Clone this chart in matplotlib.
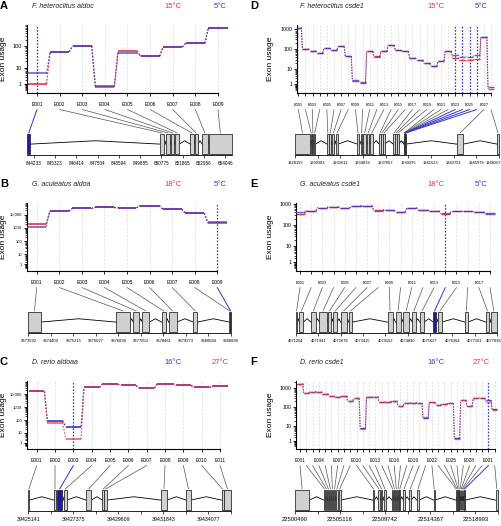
import numpy as np
import matplotlib
matplotlib.use("Agg")
import matplotlib.pyplot as plt
from matplotlib.patches import Rectangle, ConnectionPatch
import matplotlib.transforms as mtransforms

plt.rcParams['font.family'] = ['Liberation Sans', 'DejaVu Sans']

W, H = 502, 526
RED = '#e8323c'
BLUE = '#3434d2'
SIGFILL = '#1c1ca8'

# ---------------- data ----------------
# Panel A  F. heteroclitus aldoc
a_conds = ['15°C', '5°C']
a_u1 = [1.0, 56, 103, 0.57, 61, 35, 93, 137, 713]
a_u2 = [4.9, 55, 103, 0.41, 51, 35, 93, 137, 713]
a_sig = [1]
a_start = [843890, 850708, 851000, 851273, 851479, 852250, 852472, 852866, 853192]
a_end = [844062, 850914, 851222, 851428, 851685, 852421, 852644, 853140, 854391]
a_ticks = [844233, 845323, 846414, 847504, 848594, 849685, 850775, 851865, 852956, 854046]

# Panel B  G. aculeatus aldoa
b_conds = ['18°C', '5°C']
b_u1 = [1890, 17900, 28000, 33100, 31300, 46400, 25000, 12800, 2240]
b_u2 = [1275, 17900, 28000, 33100, 31300, 46400, 25000, 12800, 2650]
b_sig = [9]
b_start = [9673592, 9676763, 9677375, 9677699, 9678396, 9678648, 9679537, 9680840, 9680870]
b_end = [9674036, 9677255, 9677591, 9677951, 9678552, 9678936, 9679681, 9680870, 9680896]
b_ticks = [9673592, 9674404, 9675215, 9676027, 9676838, 9677650, 9678461, 9679273, 9680084, 9680896]

# Panel C  D. rerio aldoaa
c_conds = ['16°C', '27°C']
c_u1 = [16100, 92, 32, 32100, 56800, 45200, 28600, 64000, 45200, 32100, 38100]
c_u2 = [16100, 65, 2.5, 32100, 56800, 45200, 28600, 64000, 45200, 32100, 38100]
c_sig = [3]
c_start = [39425141, 39426415, 39426564, 39426895, 39428004, 39428815, 39428914, 39431728, 39432969, 39434723, 39434839]
c_end = [39425200, 39426515, 39426829, 39427044, 39428269, 39428898, 39429030, 39432009, 39433201, 39434823, 39435194]
c_ticks = [39425141, 39426258, 39427375, 39428492, 39429609, 39430726, 39431843, 39432960, 39434077, 39435194]

# Panel D  F. heteroclitus csde1
d_conds = ['15°C', '5°C']
d_u1 = [1119, 105, 84, 64, 113, 94, 136, 45, 1.8, 1.41, 77, 45, 77, 153, 87, 77, 37.5, 27.5, 20, 14,
        26.5, 77, 37.5, 27.5, 27.5, 31, 392, 0.54]
d_u2 = [1119, 105, 84, 64, 113, 94, 136, 45, 2.25, 1.7, 77, 39, 77, 153, 87, 77, 37.5, 27.5, 20, 14,
        26.5, 77, 53, 42, 42, 49, 392, 0.18]
d_sig = [23, 24, 25, 26]
d_start = [1928155, 1929695, 1929859, 1930022, 1931300, 1931529, 1931824, 1932184, 1934281, 1934641,
           1934871, 1935264, 1935559, 1936443, 1936640, 1936836, 1937819, 1938016, 1938212, 1938868,
           1938892, 1938916, 1938940, 1938964, 1938988, 1939012, 1944044, 1948007]
d_end = [1929629, 1929793, 1929957, 1930153, 1931464, 1931726, 1932021, 1932381, 1934412, 1934772,
         1935133, 1935428, 1935821, 1936574, 1936771, 1936967, 1937950, 1938147, 1938343, 1938890,
         1938914, 1938938, 1938962, 1938986, 1939010, 1939034, 1944699, 1948207]
d_ticks = [1928155, 1930383, 1932611, 1934839, 1937067, 1939295, 1941523, 1943751, 1945979, 1948207]

# Panel E  G. aculeatus csde1
e_conds = ['18°C', '5°C']
e_u1 = [345, 492, 678, 754, 632, 783, 840, 548, 511, 412, 678, 511, 476, 345, 459, 443, 427, 370]
e_u2 = [412, 492, 678, 754, 632, 783, 840, 476, 511, 412, 678, 511, 476, 397, 459, 443, 427, 333]
e_sig = [14]
e_start = [4071204, 4071314, 4071698, 4071973, 4072248, 4072434, 4072676, 4072940, 4074225, 4074489,
           4074740, 4075039, 4075292, 4075739, 4075893, 4076782, 4077463, 4077628]
e_end = [4071240, 4071446, 4071852, 4072215, 4072369, 4072566, 4072874, 4073061, 4074390, 4074654,
         4074938, 4075149, 4075435, 4075816, 4076013, 4076870, 4077584, 4077838]
e_ticks = [4071204, 4071941, 4072678, 4073415, 4074152, 4074890, 4075627, 4076364, 4077101, 4077838]

# Panel F  D. rerio csde1
f_conds = ['16°C', '27°C']
f_u1 = [1667, 550, 645, 645, 507, 370, 342, 370, 221, 291, 7.6, 328, 355, 188, 188, 212, 121, 160, 174, 167,
        27, 181, 137, 143, 160, 1.6, 230, 112, 300, 300, 230, 80]
f_u2 = [1667, 550, 645, 645, 507, 370, 342, 370, 221, 291, 6.4, 328, 355, 188, 188, 212, 121, 160, 174, 167,
        32, 181, 137, 143, 160, 1.5, 230, 112, 300, 300, 180, 70]
f_sig = [31]
f_start = [22500490, 22503443, 22503647, 22503850, 22504054, 22504257, 22504461, 22504699, 22504970, 22508466,
           22509043, 22509281, 22509586, 22510434, 22510638, 22510808, 22511011, 22511181, 22511588, 22512199,
           22512980, 22514711, 22516985, 22517087, 22517189, 22517290, 22517392, 22517494, 22517596, 22517698,
           22517799, 22521058]
f_end = [22501949, 22503579, 22503782, 22503986, 22504190, 22504393, 22504631, 22504868, 22505174, 22508636,
         22509179, 22509450, 22509824, 22510570, 22510740, 22510944, 22511113, 22511283, 22511758, 22512403,
         22513218, 22514813, 22517053, 22517155, 22517256, 22517358, 22517460, 22517562, 22517664, 22517765,
         22517935, 22521306]
f_ticks = [22500490, 22502803, 22505116, 22507429, 22509742, 22512054, 22514367, 22516680, 22518993, 22521306]

# ---------------- drawing ----------------
fig = plt.figure(figsize=(W / 100, H / 100), dpi=100)


def fx(px):
    return px / W


def fy(py):
    return 1 - py / H


def yfwd(y):
    return np.log10(np.clip(np.asarray(y, float) + 1.0, 1e-9, None))


def yinv(t):
    return 10.0 ** np.asarray(t, float) - 1.0


YLAB = {1: '1', 10: '10', 100: '100', 1000: '1000', 10000: '10,000', 100000: '1e+05'}


def panel(letter, title, conds, colors, u1, u2, sig, starts, ends, gticks, gstep,
          t, left, right, p1, pn, gx0, gx1, lab_step, lab_fs, ytick_fs, gtick_fs,
          col_x, lw, last_shift=None):
    n = len(u1)
    unit = (pn - p1) / (n - 1)
    x0 = 1 - (p1 - left) / unit
    x1 = n + (right - pn) / unit
    top, bot = t + 19, t + 87
    ax = fig.add_axes([fx(left), fy(bot), fx(right - left), (bot - top) / H])
    ax.set_yscale('function', functions=(yfwd, yinv))
    tmax = float(np.max(yfwd(np.concatenate([u1, u2]))))
    ax.set_ylim(float(yinv(-0.04 * tmax)), float(yinv(1.04 * tmax)))
    ax.set_xlim(x0, x1)
    xs = np.arange(1, n + 1)
    for i in xs:
        if i in sig:
            ax.axvline(i, color=BLUE, lw=0.9, ls=(0, (1.3, 1.3)), zorder=1)
        else:
            ax.axvline(i, color='#d2d2d2', lw=0.5, ls=(0, (2.5, 2.5)), zorder=0)
    hw = 0.42
    for vals, col, al, z in ((u1, colors[0], 1.0, 2), (u2, colors[1], 0.75, 3)):
        vals = np.asarray(vals, float)
        sx = np.column_stack([xs - hw, xs + hw, np.full(n, np.nan)]).ravel()
        sy = np.column_stack([vals, vals, np.full(n, np.nan)]).ravel()
        ax.plot(sx, sy, color=col, lw=lw, alpha=al, solid_capstyle='butt', zorder=z)
        cx = np.column_stack([xs[:-1] + hw, xs[1:] - hw, np.full(n - 1, np.nan)]).ravel()
        cy = np.column_stack([vals[:-1], vals[1:], np.full(n - 1, np.nan)]).ravel()
        ax.plot(cx, cy, color=col, lw=lw * 0.75, alpha=al, ls=(0, (1.4, 1.2)), zorder=z)
    ylo, yhi = ax.get_ylim()
    majors = [v for v in YLAB if v <= yhi]
    ax.set_yticks(majors, labels=[YLAB[v] for v in majors])
    minors = [k * 10.0 ** d for d in range(-1, 6) for k in range(1, 10)
              if ylo <= k * 10.0 ** d <= yhi and k * 10.0 ** d not in majors]
    ax.set_yticks(minors, minor=True)
    ax.tick_params(axis='y', which='major', labelsize=ytick_fs, length=2.5, width=0.6, pad=1)
    ax.tick_params(axis='y', which='minor', length=1.5, width=0.5)
    ax.set_xticks(xs, labels=[''] * n)
    ax.tick_params(axis='x', length=2.5, width=0.6)
    for s in ('top', 'right'):
        ax.spines[s].set_visible(False)
    for s in ('left', 'bottom'):
        ax.spines[s].set_linewidth(0.8)
    ax.spines['bottom'].set_bounds(x0, n)

    # exon labels
    tr = mtransforms.blended_transform_factory(ax.transData, fig.transFigure)
    for i in xs:
        if (i - 1) % lab_step == 0:
            ax.text(i, fy(t + 99), 'E%03d' % i, transform=tr, ha='center', va='center',
                    fontsize=lab_fs, clip_on=False)

    # gene model
    gtop, gbot = t + 127, t + 149
    gax = fig.add_axes([fx(gx0), fy(gbot), fx(gx1 - gx0), (gbot - gtop) / H])
    gax.set_xlim(min(starts), max(ends))
    gax.set_ylim(-0.05, 1.0)
    for k in range(n - 1):
        if starts[k + 1] > ends[k]:
            m = (ends[k] + starts[k + 1]) / 2
            gax.plot([ends[k], m, starts[k + 1]], [0.47, 0.63, 0.47], color='black', lw=0.6,
                     zorder=1, clip_on=False)
    for k in range(n):
        fc = SIGFILL if (k + 1) in sig else '#d0d0d0'
        gax.add_patch(Rectangle((starts[k], 0), ends[k] - starts[k], 0.95, facecolor=fc,
                                edgecolor='#2e2e2e', lw=0.6, zorder=2, clip_on=False))
    labels = [str(v) if k % gstep == 0 else '' for k, v in enumerate(gticks)]
    if last_shift is not None:
        labels[-1] = ''
    gax.set_xticks(gticks, labels=labels)
    gax.tick_params(axis='x', length=2.5, width=0.5, labelsize=gtick_fs, pad=1.5)
    if last_shift is not None:
        trl = mtransforms.offset_copy(
            mtransforms.blended_transform_factory(gax.transData, gax.transAxes),
            fig=fig, x=last_shift, y=-5.6, units='dots')
        gax.text(gticks[-1], 0, str(gticks[-1]), transform=trl, ha='right', va='top',
                 fontsize=gtick_fs, clip_on=False)
    gax.set_yticks([])
    for s in ('top', 'right', 'left'):
        gax.spines[s].set_visible(False)
    gax.spines['bottom'].set_linewidth(0.6)
    gax.patch.set_alpha(0)

    trg = mtransforms.blended_transform_factory(gax.transData, fig.transFigure)
    for k in range(n):
        is_sig = (k + 1) in sig
        cp = ConnectionPatch(xyA=(k + 1, fy(t + 103.5)), coordsA=tr,
                             xyB=((starts[k] + ends[k]) / 2, fy(gtop)), coordsB=trg,
                             color=BLUE if is_sig else '#555555', lw=0.7 if is_sig else 0.5)
        fig.add_artist(cp)

    # titles
    fig.text(fx(col_x[0]), fy(t), letter, fontsize=8, fontweight='bold', ha='left', va='center')
    fig.text(fx(col_x[1]), fy(t), title, fontsize=5, style='italic', ha='left', va='center',
             color='#222222')
    fig.text(fx(col_x[2]), fy(t), conds[0], fontsize=5.5, color=colors[0], ha='center', va='center')
    fig.text(fx(col_x[3]), fy(t), conds[1], fontsize=5.5, color=colors[1], ha='center', va='center')
    fig.text(fx(col_x[4]), fy((top + bot) / 2), 'Exon usage', fontsize=6, rotation=90,
             ha='center', va='center')


LEFT_X = (0, 32, 173, 220, 4)
RIGHT_X = (250, 300, 436, 481, 271)

panel('A', 'F. heteroclitus aldoc', a_conds, (RED, BLUE), a_u1, a_u2, a_sig, a_start, a_end,
      a_ticks, 1, 6, 27, 237, 37, 218, 27, 232, 1, 3.5, 4, 3.3, LEFT_X, 1.2)
panel('B', 'G. aculeatus aldoa', b_conds, (RED, BLUE), b_u1, b_u2, b_sig, b_start, b_end,
      b_ticks, 1, 184, 27, 237, 36.7, 217.3, 28.3, 231, 1, 3.5, 3, 3.0, LEFT_X, 1.2)
panel('C', 'D. rerio aldoaa', c_conds, (BLUE, RED), c_u1, c_u2, c_sig, c_start, c_end,
      c_ticks, 2, 362, 27, 232, 36.7, 220, 28.3, 231, 1, 3.5, 3, 3.8, LEFT_X, 1.2)
panel('D', 'F. heteroclitus csde1', d_conds, (RED, BLUE), d_u1, d_u2, d_sig, d_start, d_end,
      d_ticks, 1, 6, 297, 499, 298.3, 491, 295, 499, 2, 2.8, 3.8, 2.9, RIGHT_X, 1.0, 2.5)
panel('E', 'G. aculeatus csde1', e_conds, (RED, BLUE), e_u1, e_u2, e_sig, e_start, e_end,
      e_ticks, 1, 184, 296, 499, 300, 490, 296, 497, 2, 2.8, 3.8, 2.9, RIGHT_X, 1.0, 4.5)
panel('F', 'D. rerio csde1', f_conds, (BLUE, RED), f_u1, f_u2, f_sig, f_start, f_end,
      f_ticks, 2, 362, 296, 499, 300, 494.7, 295, 498, 3, 3.4, 3.8, 4.2, RIGHT_X, 1.0)

fig.savefig('out.png', dpi=100)
